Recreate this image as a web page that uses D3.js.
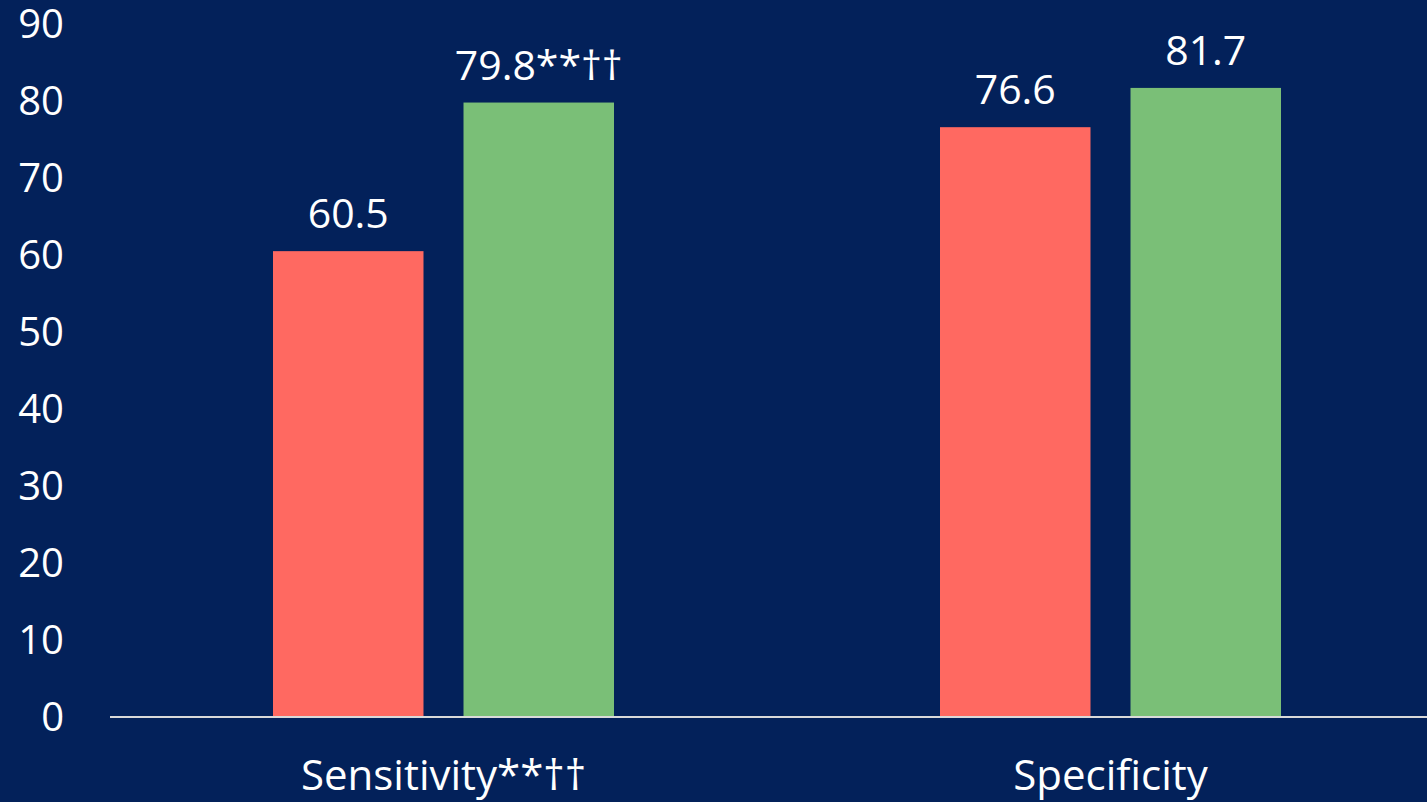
<!DOCTYPE html>
<html>
<head>
<meta charset="utf-8">
<script src="https://cdn.jsdelivr.net/npm/d3@7"></script>
<style>
  html, body { margin: 0; padding: 0; background: #03215a; }
  svg { display: block; }
  text { font-family: "Open Sans", "Noto Sans", sans-serif; fill: #fff; }
</style>
</head>
<body>
<div class="chart"></div>
<script>
// data
const categories = ["Sensitivity**††", "Specificity"];
const seriesNames = ["A", "B"];
const redValues = [60.5, 76.6];
const greenValues = [79.8, 81.7];
const valueLabels = [["60.5", "79.8**††"], ["76.6", "81.7"]];
const yTicks = [0, 10, 20, 30, 40, 50, 60, 70, 80, 90];

const width = 1427, height = 802;
const colors = ["#ff6961", "#7abf77"];

const svg = d3.select('.chart')
    .append('svg')
    .attr('width', width)
    .attr('height', height);

svg.append('rect')
    .attr('width', width)
    .attr('height', height)
    .attr('fill', '#03215a');

const xScale = d3.scaleBand()
    .domain(categories)
    .range([110, 1444]);

const xInner = d3.scaleBand()
    .domain(seriesNames)
    .range([163, xScale.bandwidth() - 163])
    .paddingInner(0.21);

const yScale = d3.scaleLinear()
    .domain([0, 90])
    .range([717, 24]);

// y tick labels (no axis line)
const yAxis = d3.axisLeft(yScale)
    .tickValues(yTicks)
    .tickSize(0)
    .tickPadding(0);

svg.append('g')
    .attr('class', 'axis y-axis')
    .attr('transform', 'translate(64,0)')
    .call(yAxis)
    .call(g => g.select('.domain').remove())
    .selectAll('text')
    .attr('fill', '#fff')
    .attr('dy', '0.34em')
    .style('font-size', '40px')
    .style('font-family', '"Open Sans", sans-serif')
    .attr('text-anchor', 'end');

const data = categories.map((c, i) => ({
    category: c,
    values: [redValues[i], greenValues[i]],
    labels: valueLabels[i]
}));

const groups = svg.selectAll('.group')
    .data(data)
    .enter()
    .append('g')
    .attr('class', 'group')
    .attr('transform', d => 'translate(' + xScale(d.category) + ',0)');

groups.selectAll('.bar')
    .data(d => d.values.map((v, j) => ({key: seriesNames[j], value: v, label: d.labels[j], color: colors[j]})))
    .enter()
    .append('rect')
    .attr('class', 'bar')
    .attr('x', d => xInner(d.key))
    .attr('y', d => yScale(d.value))
    .attr('width', xInner.bandwidth())
    .attr('height', d => yScale(0) - yScale(d.value))
    .attr('fill', d => d.color);

groups.selectAll('.val')
    .data(d => d.values.map((v, j) => ({key: seriesNames[j], value: v, label: d.labels[j]})))
    .enter()
    .append('text')
    .attr('class', 'val')
    .attr('x', d => xInner(d.key) + xInner.bandwidth() / 2)
    .attr('y', d => yScale(d.value) - 23)
    .attr('text-anchor', 'middle')
    .style('font-size', '41px')
    .text(d => d.label);

// x axis baseline
const xAxis = d3.axisBottom(xScale)
    .tickSize(0)
    .tickPadding(0);

svg.append('g')
    .attr('class', 'axis x-axis')
    .attr('transform', 'translate(0,' + yScale(0) + ')')
    .call(xAxis)
    .call(g => g.select('.domain')
        .attr('stroke', '#d9d9d9')
        .attr('stroke-width', 2)
        .attr('d', 'M110,0H1427'))
    .selectAll('text')
    .attr('fill', '#fff')
    .attr('dy', null)
    .attr('y', 73)
    .style('font-size', '42px')
    .style('font-family', '"Open Sans", sans-serif');
</script>
</body>
</html>
